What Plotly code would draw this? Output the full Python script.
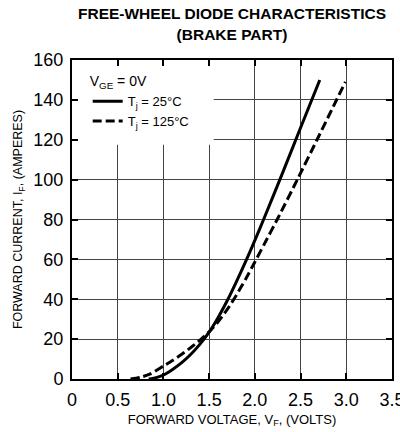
import plotly.graph_objects as go

# Tj = 25 C
v_25 = [0.84, 0.92, 1.0, 1.1, 1.2, 1.3, 1.4, 1.5, 1.6, 1.7, 1.8, 1.9, 2.0, 2.1, 2.3, 2.5, 2.71]
i_25 = [0, 0.7, 2.0, 4.8, 8.2, 12.4, 17.5, 23.5, 31, 39.5, 49, 59, 69.5, 80.5, 103, 126, 150]
# Tj = 125 C
v_125 = [0.64, 0.75, 0.85, 1.0, 1.1, 1.2, 1.3, 1.4, 1.5, 1.6, 1.7, 1.8, 1.9, 2.0, 2.1, 2.25, 2.47, 2.68, 2.99]
i_125 = [0, 0.9, 2.4, 6.5, 9.3, 12.4, 15.8, 19.5, 23.7, 28.8, 35, 42.2, 50.2, 58.7, 67.4, 80.5, 100.5, 120, 149]

x_ticks = [0, 0.5, 1.0, 1.5, 2.0, 2.5, 3.0, 3.5]
x_labels = ["0", "0.5", "1.0", "1.5", "2.0", "2.5", "3.0", "3.5"]
y_ticks = [0, 20, 40, 60, 80, 100, 120, 140, 160]

FONT = "Liberation Sans, Arial, sans-serif"

fig = go.Figure()
fig.add_trace(go.Scatter(x=v_25, y=i_25, mode="lines", name="T<sub>j</sub> = 25°C",
                         line=dict(color="black", width=3, shape="spline", smoothing=0.6)))
fig.add_trace(go.Scatter(x=v_125, y=i_125, mode="lines", name="T<sub>j</sub> = 125°C",
                         line=dict(color="black", width=3, dash="9px,4px", shape="spline", smoothing=0.6)))

# white panel behind the legend (hides the grid there, as in the original)
fig.add_shape(type="rect", xref="x", yref="y", x0=0, x1=1.55, y0=117.5, y1=160,
              fillcolor="white", line=dict(width=0), layer="between")

axis_common = dict(showline=True, linecolor="black", linewidth=2, mirror="ticks",
                   ticks="inside", ticklen=6, tickwidth=2, tickcolor="black",
                   showgrid=True, gridcolor="#444444", gridwidth=1, zeroline=False,
                   automargin=False, ticklabelstandoff=3,
                   tickfont=dict(family=FONT, size=18, color="black"))

fig.update_xaxes(range=[0, 3.5], tickvals=x_ticks, ticktext=x_labels,
                 ticklabeloverflow="allow",
                 title=dict(text="FORWARD VOLTAGE, V<sub>F</sub>, (VOLTS)",
                            font=dict(family=FONT, size=13, color="black"), standoff=6),
                 **axis_common)
fig.update_yaxes(range=[0, 160], tickvals=y_ticks,
                 title=dict(text="FORWARD CURRENT, I<sub>F</sub>, (AMPERES)",
                            font=dict(family=FONT, size=12.5, color="black"), standoff=8),
                 **axis_common)

fig.update_layout(
    width=400, height=432,
    margin=dict(l=72, r=8, t=60, b=53),
    paper_bgcolor="white", plot_bgcolor="white",
    title=dict(text="<b>FREE-WHEEL DIODE CHARACTERISTICS<br>(BRAKE PART)</b>",
               font=dict(family=FONT, size=15.5, color="black"),
               xref="paper", x=0.5, xanchor="center", y=0.955, yanchor="top"),
    legend=dict(x=0.049, y=0.975, xanchor="left", yanchor="top",
                bgcolor="rgba(0,0,0,0)", borderwidth=0,
                title=dict(text="V<sub>GE</sub> = 0V", font=dict(family=FONT, size=14, color="black")),
                font=dict(family=FONT, size=13, color="black"),
                tracegroupgap=0, itemwidth=30),
    showlegend=True,
)

fig.write_html("out.html", config={"displayModeBar": False},
               post_script="document.body.style.margin='0';document.body.style.overflow='hidden';")
